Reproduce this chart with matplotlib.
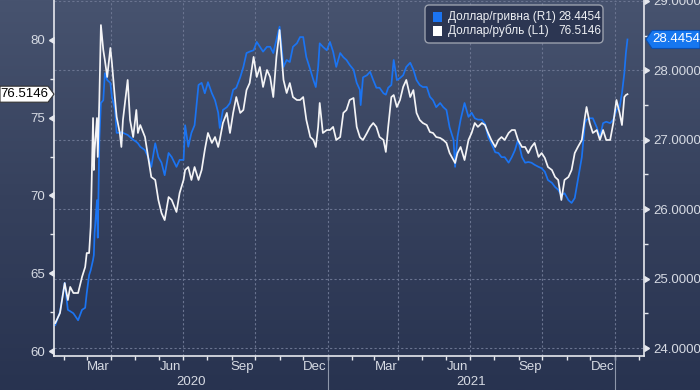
import numpy as np
import pandas as pd
import matplotlib
matplotlib.use("Agg")
import matplotlib.pyplot as plt
import matplotlib.dates as mdates
from matplotlib.colors import LinearSegmentedColormap
from matplotlib.markers import CARETLEFTBASE, CARETRIGHTBASE
from matplotlib.patches import Polygon, FancyBboxPatch, Rectangle
from matplotlib.lines import Line2D
from matplotlib.transforms import blended_transform_factory
from matplotlib.ticker import NullFormatter, FormatStrFormatter

plt.rcParams['font.family'] = ['Liberation Sans', 'DejaVu Sans']

# ---------------- data ----------------
start_date = "2020-01-20"
day_offsets = [1, 7, 13, 17, 20, 24, 30, 35, 39, 41, 44, 46, 49, 50, 51, 54, 55, 57, 59, 62,
               64, 67, 71, 73, 77, 79, 83, 85, 87, 93, 96, 100, 104, 106, 109, 115, 119, 123, 128, 132,
               136, 140, 145, 149, 155, 159, 164, 166, 170, 174, 178, 183, 187, 191, 195, 200, 204, 208, 210, 214,
               219, 223, 227, 231, 236, 240, 244, 248, 253, 257, 261, 265, 270, 274, 278, 282, 286, 291, 295, 299,
               303, 308, 312, 316, 320, 325, 329, 332, 335, 337, 341, 346, 350, 354, 358, 363, 367, 371, 375, 380,
               384, 388, 389, 392, 397, 401, 405, 409, 413, 418, 421, 424, 428, 431, 435, 439, 443, 447, 452, 456,
               460, 464, 468, 473, 477, 481, 485, 490, 494, 498, 502, 507, 509, 512, 516, 521, 526, 530, 534, 538,
               543, 547, 551, 555, 560, 564, 568, 572, 577, 581, 585, 589, 594, 598, 602, 606, 610, 615, 619, 623,
               627, 632, 636, 640, 644, 648, 653, 657, 661, 665, 670, 674, 676, 680, 684, 689, 693, 697, 701, 706,
               710, 714, 718, 721, 724, 726, 728]

usd_rub = [61.80, 62.44, 64.37, 63.28, 64.12, 63.73, 63.73, 64.76, 65.40, 66.30, 66.30, 67.97, 74.98, 71.64, 72.93, 74.98, 72.48, 76.14, 80.96, 79.36,
           78.71, 77.62, 79.49, 78.52, 76.14, 75.05, 74.02, 73.12, 74.86, 77.43, 74.86, 73.76, 75.50, 74.02, 74.53, 73.76, 72.48, 71.19, 71.00, 69.71,
           68.87, 68.42, 69.90, 69.71, 68.94, 70.16, 71.00, 71.64, 71.83, 71.00, 71.83, 71.00, 71.64, 72.93, 74.02, 73.38, 73.76, 73.12, 73.57, 74.66,
           75.31, 74.02, 75.31, 76.33, 75.31, 75.50, 76.78, 77.23, 78.91, 77.62, 78.26, 76.98, 78.07, 77.62, 76.33, 78.91, 80.64, 77.43, 76.59, 77.23,
           76.33, 76.14, 76.14, 76.33, 74.86, 73.76, 73.57, 73.12, 74.41, 75.95, 74.02, 74.21, 74.21, 74.41, 73.57, 73.76, 75.31, 75.50, 76.14, 76.27,
           74.41, 73.76, 73.70, 73.57, 74.02, 74.41, 74.66, 74.41, 73.76, 73.57, 72.80, 74.41, 76.33, 76.46, 75.69, 76.14, 76.98, 77.43, 76.33, 76.78,
           75.31, 74.86, 74.66, 74.53, 74.08, 74.02, 73.76, 73.70, 73.57, 73.38, 72.73, 72.28, 72.09, 72.73, 73.12, 72.28, 73.57, 74.02, 74.66, 74.41,
           74.66, 74.53, 74.02, 73.57, 73.12, 73.57, 73.76, 73.57, 74.02, 74.21, 74.21, 73.57, 73.12, 73.12, 72.73, 73.12, 73.38, 72.48, 72.73, 72.41,
           71.83, 71.64, 71.19, 71.00, 69.71, 71.00, 71.19, 71.64, 72.73, 73.12, 73.57, 75.05, 75.69, 74.66, 74.02, 74.21, 73.57, 74.21, 73.57, 73.57,
           74.66, 76.14, 75.31, 74.53, 76.33, 76.46, 76.5146]

usd_uah = [24.33, 24.52, 24.94, 24.55, 24.53, 24.50, 24.40, 24.55, 24.58, 24.79, 25.05, 25.12, 25.27, 25.34, 25.66, 26.13, 25.59, 27.00, 27.53, 27.57,
           27.96, 27.86, 27.82, 27.62, 27.43, 27.10, 27.10, 27.11, 27.10, 27.07, 27.04, 27.00, 26.97, 26.95, 26.90, 26.85, 26.75, 26.61, 26.95, 26.75,
           26.67, 26.49, 26.81, 26.75, 26.61, 26.71, 26.71, 27.21, 26.90, 27.10, 27.21, 27.79, 27.82, 27.67, 27.83, 27.67, 27.57, 27.39, 27.17, 27.43,
           27.47, 27.53, 27.72, 27.75, 27.90, 28.05, 28.25, 28.27, 28.29, 28.41, 28.34, 28.27, 28.34, 28.34, 28.25, 28.44, 28.63, 28.05, 28.15, 28.12,
           28.34, 28.39, 28.48, 28.48, 28.19, 28.01, 27.86, 27.76, 28.05, 28.39, 28.34, 28.29, 28.41, 28.27, 28.05, 28.25, 28.19, 28.15, 28.08, 28.01,
           27.82, 27.72, 27.50, 27.90, 27.93, 27.98, 27.86, 27.75, 27.75, 27.67, 27.65, 27.75, 27.79, 28.15, 27.86, 27.89, 27.93, 28.05, 28.11, 28.01,
           27.86, 27.79, 27.76, 27.76, 27.62, 27.57, 27.47, 27.53, 27.47, 27.43, 27.18, 27.00, 26.61, 27.04, 27.29, 27.53, 27.33, 27.39, 27.31, 27.29,
           27.29, 27.23, 27.04, 26.95, 26.82, 26.81, 26.75, 26.75, 26.67, 26.75, 26.85, 27.00, 26.75, 26.67, 26.68, 26.67, 26.64, 26.61, 26.59, 26.54,
           26.42, 26.38, 26.32, 26.28, 26.20, 26.23, 26.13, 26.09, 26.16, 26.42, 26.75, 27.24, 27.29, 27.31, 27.31, 27.18, 27.04, 27.24, 27.26, 27.24,
           27.29, 27.43, 27.47, 27.67, 27.96, 28.25, 28.4454]

series_names = ["Доллар/гривна (R1)", "Доллар/рубль (L1)"]
left_ticks = [60, 65, 70, 75, 80]
left_minor = [62.5, 67.5, 72.5, 77.5]
right_ticks = [24, 25, 26, 27, 28, 29]
right_minor = [24.5, 25.5, 26.5, 27.5, 28.5]
month_labels = ["Mar", "Jun", "Sep", "Dec", "Mar", "Jun", "Sep", "Dec"]
month_label_dates = ["2020-03-16", "2020-06-15", "2020-09-15", "2020-12-16",
                     "2021-03-16", "2021-06-15", "2021-09-15", "2021-12-16"]
year_labels = ["2020", "2021"]
year_starts = ["2021-01-01", "2022-01-01"]

# ---------------- style ----------------
W, H = 700, 390
BLUE = '#1b74f2'
WHITE = '#f4f4f6'
SPINE = '#e6e8ee'
LABEL = '#d6dae3'
GRID = '#6a7490'

def fx(px):
    return px / W

def fy(py):
    return 1 - py / H

fig = plt.figure(figsize=(W / 100, H / 100), dpi=100)

bg = fig.add_axes([0, 0, 1, 1], zorder=-10)
grad = np.linspace(0, 1, 256).reshape(-1, 1)
cmap = LinearSegmentedColormap.from_list('bg', ['#47536f', '#36415d', '#283350'])
bg.imshow(grad, aspect='auto', cmap=cmap, extent=[0, 1, 0, 1], origin='upper')
bg.set_axis_off()

L, R, B, T = 54, 644, 356, 0
ax_r = fig.add_axes([fx(L), fy(B), (R - L) / W, (B - T) / H])
ax_r.set_facecolor('none')
ax_l = ax_r.twinx()
ax_l.patch.set_visible(False)

dates = pd.Timestamp(start_date) + pd.to_timedelta(day_offsets, unit='D')
xnum = mdates.date2num(dates)

ax_r.plot(xnum, usd_uah, color=BLUE, lw=1.25, solid_joinstyle='round')
ax_l.plot(xnum, usd_rub, color=WHITE, lw=1.25, solid_joinstyle='round')

x0 = mdates.date2num(pd.Timestamp(start_date)) - 0.6
x1 = mdates.date2num(pd.Timestamp("2022-02-07"))
ax_r.set_xlim(x0, x1)
ax_l.set_ylim(59.68, 82.57)
ax_r.set_ylim(23.885, 29.014)

# spines
for a in (ax_l,):
    for s in a.spines.values():
        s.set_visible(False)
ax_r.spines['top'].set_visible(False)
for k in ('left', 'right', 'bottom'):
    ax_r.spines[k].set_color(SPINE)
    ax_r.spines[k].set_linewidth(1.2)

# y axes
ax_r.yaxis.tick_right()
ax_l.yaxis.tick_left()
ax_l.set_yticks(left_ticks)
ax_l.set_yticks(left_minor, minor=True)
ax_r.set_yticks(right_ticks)
ax_r.set_yticks(right_minor, minor=True)
ax_r.yaxis.set_major_formatter(FormatStrFormatter('%.4f'))
ax_l.yaxis.set_major_formatter(FormatStrFormatter('%d'))

ax_l.tick_params(axis='y', which='major', length=4.5, width=1, color=SPINE,
                 labelcolor=LABEL, labelsize=9.5, pad=2)
ax_l.tick_params(axis='y', which='minor', length=3, width=1, color=SPINE)
ax_r.tick_params(axis='y', which='major', length=4.5, width=1, color=SPINE,
                 labelcolor=LABEL, labelsize=9.5, pad=2)
ax_r.tick_params(axis='y', which='minor', length=3, width=1, color=SPINE)
for t in ax_l.yaxis.get_major_ticks():
    t.tick1line.set_marker(CARETLEFTBASE)
for t in ax_r.yaxis.get_major_ticks():
    t.tick2line.set_marker(CARETRIGHTBASE)

# x axis
ax_r.xaxis.set_major_locator(mdates.MonthLocator(bymonth=[1, 4, 7, 10]))
ax_r.xaxis.set_minor_locator(mdates.MonthLocator())
ax_r.xaxis.set_major_formatter(NullFormatter())
ax_r.xaxis.set_minor_formatter(NullFormatter())
ax_r.tick_params(axis='x', which='both', direction='out', length=3, width=1, color=SPINE)

# grid
ax_r.set_axisbelow(True)
ax_r.grid(True, axis='both', which='major', color=GRID, ls=(0, (2, 2)), lw=0.8)

tr = blended_transform_factory(ax_r.transData, fig.transFigure)
for d, lab in zip(month_label_dates, month_labels):
    ax_r.text(mdates.date2num(pd.Timestamp(d)), fy(367), lab, transform=tr, ha='center',
              va='center', fontsize=9.5, color=LABEL, clip_on=False)

bounds = [x0] + [mdates.date2num(pd.Timestamp(d)) for d in year_starts]
for i, lab in enumerate(year_labels):
    ax_r.text((bounds[i] + bounds[i + 1]) / 2, fy(382), lab, transform=tr, ha='center',
              va='center', fontsize=9.5, color=LABEL, clip_on=False)
for d in year_starts:
    xd = mdates.date2num(pd.Timestamp(d))
    ax_r.add_line(Line2D([xd, xd], [0, fy(B)], transform=tr, color='#8e97aa', lw=0.8, clip_on=False))

# ---------------- value tags ----------------
inv = fig.transFigure.inverted()
yb = inv.transform(ax_r.transData.transform((xnum[-1], usd_uah[-1])))[1] * H
yw = inv.transform(ax_l.transData.transform((xnum[-1], usd_rub[-1])))[1] * H
yb_top = H - yb
yw_top = H - yw

tag_r = Polygon([(fx(646), fy(yb_top)), (fx(652), fy(yb_top - 9)), (fx(700), fy(yb_top - 9)),
                 (fx(700), fy(yb_top + 9)), (fx(652), fy(yb_top + 9))], closed=True,
                transform=fig.transFigure, facecolor='#1677f0', edgecolor='#0b4fb0', lw=0.8)
fig.patches.append(tag_r)
fig.text(fx(676), fy(yb_top), f"{usd_uah[-1]:.4f}", ha='center', va='center', color='white', fontsize=9.5)

tag_l = Polygon([(fx(0), fy(yw_top - 8)), (fx(48), fy(yw_top - 8)), (fx(54), fy(yw_top)),
                 (fx(48), fy(yw_top + 8)), (fx(0), fy(yw_top + 8))], closed=True,
                transform=fig.transFigure, facecolor='white', edgecolor='#333333', lw=0.8)
fig.patches.append(tag_l)
fig.text(fx(24), fy(yw_top), f"{usd_rub[-1]:.4f}", ha='center', va='center', color='black', fontsize=9.5)

# ---------------- legend ----------------
leg = FancyBboxPatch((fx(425), fy(43)), (603 - 425) / W, 38 / H,
                     boxstyle='round,pad=0,rounding_size=0.006', mutation_aspect=W / H,
                     transform=fig.transFigure, facecolor='#2c3652', edgecolor='#9aa0ad', lw=1.0)
fig.patches.append(leg)
rows = [(17, BLUE, series_names[0], f"{usd_uah[-1]:.4f}"),
        (31, 'white', series_names[1], f"{usd_rub[-1]:.4f}")]
for yy, col, name, val in rows:
    fig.patches.append(Rectangle((fx(433), fy(yy + 4.5)), 9 / W, 9 / H, transform=fig.transFigure,
                                 facecolor=col, edgecolor='none'))
    fig.text(fx(448), fy(yy), name, ha='left', va='center', color='#eef0f4', fontsize=8.5)
    fig.text(fx(558), fy(yy), val, ha='left', va='center', color='#eef0f4', fontsize=8.5)

fig.savefig('out.png', dpi=100, facecolor=fig.get_facecolor())
